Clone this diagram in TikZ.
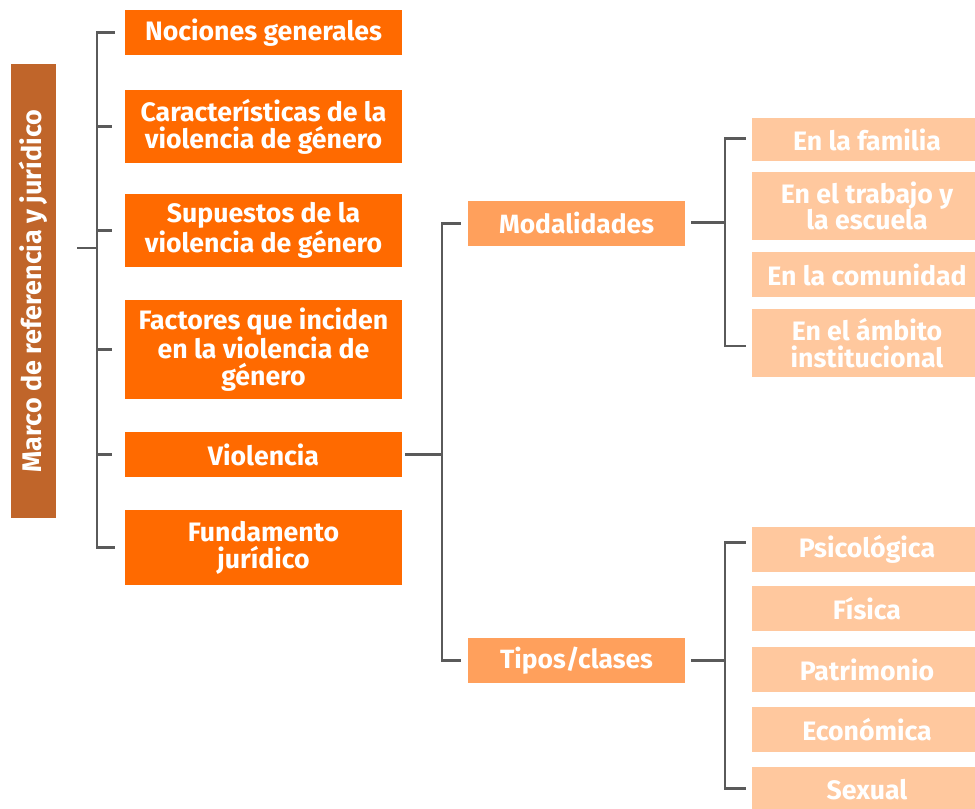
\documentclass[tikz,border=0pt]{standalone}
\usepackage{fontspec}
\setmainfont{Fira Sans}
\definecolor{lorange}{HTML}{FF6A00}
\definecolor{morange}{HTML}{FFA05C}
\definecolor{porange}{HTML}{FFC89E}
\definecolor{brownbar}{HTML}{C0652A}
\definecolor{lineg}{HTML}{5A5A5A}
\tikzset{
  box/.style={rectangle, inner sep=0pt, text=white, align=center, font=\bfseries\fontsize{20}{20}\selectfont},
  lbox/.style={box, fill=lorange, minimum width=207.75pt},
  mbox/.style={box, fill=morange, minimum width=162.75pt, minimum height=33.75pt, font=\bfseries\fontsize{19.8}{20}\selectfont},
  rbox/.style={box, fill=porange, minimum width=172.5pt, font=\bfseries\fontsize{20}{20}\selectfont},
  conn/.style={draw=lineg, line width=2.2pt},
}
\begin{document}
\begin{tikzpicture}[x=0.75pt, y=-0.75pt]
\useasboundingbox (0,0) rectangle (975,808);
% side bar
\node[box, fill=brownbar, minimum width=340.5pt, minimum height=33.75pt, rotate=90, font=\bfseries\fontsize{20.2}{21}\selectfont] (bar) at (33.5,291) {Marco de referencia y jurídico};
% left boxes
\node[lbox, minimum height=33.75pt] (n1) at (263.5,32.5) {Nociones generales};
\node[lbox, minimum height=54.75pt] (n2) at (263.5,126.5) {Características de la\\violencia de género};
\node[lbox, minimum height=54.75pt] (n3) at (263.5,230.5) {Supuestos de la\\violencia de género};
\node[lbox, minimum height=74.25pt] (n4) at (263.5,349.5) {Factores que inciden\\en la violencia de\\género};
\node[lbox, minimum height=33.75pt] (n5) at (263.5,454.5) {Violencia};
\node[lbox, minimum height=56.25pt] (n6) at (263.5,547.5) {Fundamento\\jurídico};
% middle boxes
\node[mbox] (mod) at (576.5,223.5) {Modalidades};
\node[mbox] (tip) at (576.5,660.5) {Tipos/clases};
% right boxes
\node[rbox, minimum height=32.25pt] (r1) at (867,139.5) {En la familia};
\node[rbox, minimum height=51pt] (r2) at (867,206) {En el trabajo y\\la escuela};
\node[rbox, minimum height=33.75pt] (r3) at (867,274.5) {En la comunidad};
\node[rbox, minimum height=51pt] (r4) at (867,343) {En el ámbito\\institucional};
\node[rbox, minimum height=33.75pt] (t1) at (867,549.5) {Psicológica};
\node[rbox, minimum height=33.75pt] (t2) at (867,608.5) {Física};
\node[rbox, minimum height=33.75pt] (t3) at (867,669.5) {Patrimonio};
\node[rbox, minimum height=33.75pt] (t4) at (867,729.5) {Económica};
\node[rbox, minimum height=33.75pt] (t5) at (867,789.5) {Sexual};
% connector columns
\coordinate (L) at (97,0);
\coordinate (M) at (442,0);
\coordinate (R) at (725,0);
\coordinate (s0) at (77,248);
% left bracket
\draw[conn] ([xshift=-7.5pt]n1.west) -- (n1.west -| L) -- (n6.west -| L) -- ([xshift=-7.5pt]n6.west);
\draw[conn] (s0) -- (s0 -| L);
\foreach \n in {n2,n3,n4,n5} \draw[conn] (\n.west -| L) -- ([xshift=-9.75pt]\n.west);
% middle bracket
\draw[conn] ([xshift=2.25pt]n5.east) -- (n5.east -| M);
\draw[conn] ([xshift=-5.25pt]mod.west) -- (mod.west -| M) -- (tip.west -| M) -- ([xshift=-5.25pt]tip.west);
% right brackets
\draw[conn] ([xshift=4.5pt,yshift=1pt]mod.east) -- ([yshift=1pt]mod.east -| R);
\draw[conn] ([xshift=-4.5pt,yshift=1pt]r1.west) -- ([yshift=1pt]r1.west -| R) -- ([yshift=-2.25pt]r4.west -| R) -- ([xshift=-4.5pt,yshift=-2.25pt]r4.west);
\draw[conn] ([xshift=4.5pt]tip.east) -- (tip.east -| R);
\draw[conn] ([xshift=-4.5pt,yshift=5pt]t1.west) -- ([yshift=5pt]t1.west -| R) -- ([yshift=1pt]t5.west -| R) -- ([xshift=-4.5pt,yshift=1pt]t5.west);
\end{tikzpicture}
\end{document}
